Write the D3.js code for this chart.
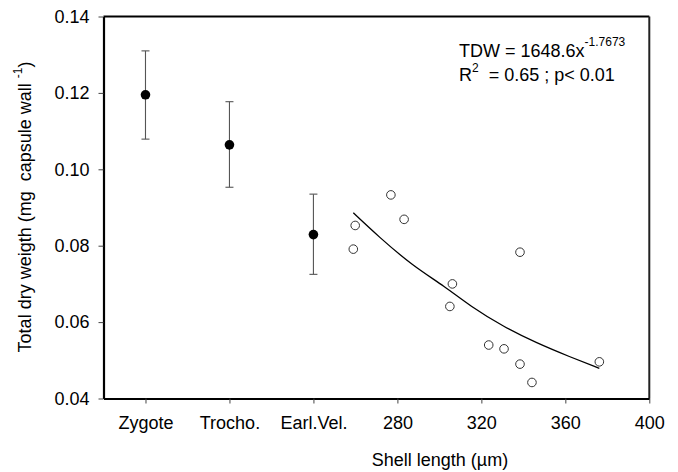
<!DOCTYPE html>
<html>
<head>
<meta charset="utf-8">
<script src="https://cdn.jsdelivr.net/npm/d3@7"></script>
<style>
  html, body { margin: 0; padding: 0; background: #fff; }
  svg { display: block; font-family: "Liberation Sans", Arial, sans-serif; }
</style>
</head>
<body>
<svg id="chart" width="678" height="472"></svg>
<script>
// ---- data ----
const tickValues = [160, 200, 240, 280, 320, 360, 400];
const tickLabels = ["Zygote", "Trocho.", "Earl.Vel.", "280", "320", "360", "400"];
const yTicks = [0.04, 0.06, 0.08, 0.10, 0.12, 0.14];

const stageX = [160, 200, 240];
const stageMean = [0.1195, 0.1064, 0.0829];
const stageUpper = [0.1310, 0.1177, 0.0935];
const stageLower = [0.1079, 0.0953, 0.0725];

const shellLength = [259.0, 259.9, 276.9, 283.2, 306.2, 305.0, 338.4, 323.5, 330.8, 338.4, 344.1, 376.2];
const shellTDW    = [0.0791, 0.0853, 0.0933, 0.0869, 0.0700, 0.0641, 0.0783, 0.0540, 0.0530, 0.0490, 0.0442, 0.0496];

const fitX = [259.0, 271.0, 286.9, 302.7, 314.6, 330.5, 346.4, 362.2, 376.2];
const fitY = [0.0886, 0.0824, 0.0749, 0.0693, 0.0642, 0.0588, 0.0545, 0.0509, 0.0479];

// ---- layout ----
const svg = d3.select("#chart");
svg.append("rect").attr("width", 678).attr("height", 472).attr("fill", "#fff");
const L = 103.5, R = 649.3, T = 16.5, B = 398.5;
const x = d3.scaleLinear().domain([140, 400]).range([L, R]);
const y = d3.scaleLinear().domain([0.04, 0.14]).range([B, T]);

// frame (top, right)
svg.append("line").attr("x1", L).attr("x2", R).attr("y1", T).attr("y2", T)
  .attr("stroke", "#000").attr("stroke-width", 1.8);
svg.append("line").attr("x1", R).attr("x2", R).attr("y1", T).attr("y2", B)
  .attr("stroke", "#222").attr("stroke-width", 2);

// axes
const xAxis = d3.axisBottom(x).tickValues(tickValues)
  .tickFormat((d, i) => tickLabels[i]).tickSize(5).tickSizeOuter(0).tickPadding(13);
const gx = svg.append("g").attr("transform", `translate(0,${B})`).call(xAxis);
const yAxis = d3.axisLeft(y).tickValues(yTicks)
  .tickFormat(d3.format(".2f")).tickSize(5).tickSizeOuter(0).tickPadding(9);
const gy = svg.append("g").attr("transform", `translate(${L},0)`).call(yAxis);
[gx, gy].forEach(g => {
  g.select(".domain").attr("stroke", "#000").attr("stroke-width", 2.2);
  g.selectAll(".tick line").attr("stroke", "#444").attr("stroke-width", 1);
  g.selectAll(".tick text").attr("font-size", 18).attr("fill", "#000")
    .attr("font-family", "'Liberation Sans', Arial, sans-serif");
});

// error bars
const eb = svg.append("g").attr("stroke", "#555").attr("stroke-width", 1.1);
stageX.forEach((sx, i) => {
  const cx = x(sx);
  eb.append("line").attr("x1", cx).attr("x2", cx).attr("y1", y(stageUpper[i])).attr("y2", y(stageLower[i]));
  eb.append("line").attr("x1", cx - 4).attr("x2", cx + 4).attr("y1", y(stageUpper[i])).attr("y2", y(stageUpper[i]));
  eb.append("line").attr("x1", cx - 4).attr("x2", cx + 4).attr("y1", y(stageLower[i])).attr("y2", y(stageLower[i]));
});
svg.append("g").selectAll("circle").data(stageX).join("circle")
  .attr("cx", d => x(d)).attr("cy", (d, i) => y(stageMean[i])).attr("r", 4.8).attr("fill", "#000");

// fitted curve
const line = d3.line().x(d => x(d[0])).y(d => y(d[1])).curve(d3.curveBasis);
svg.append("path").datum(fitX.map((v, i) => [v, fitY[i]]))
  .attr("d", line).attr("fill", "none").attr("stroke", "#000").attr("stroke-width", 1.3);

// open circles
svg.append("g").selectAll("circle").data(shellLength).join("circle")
  .attr("cx", d => x(d)).attr("cy", (d, i) => y(shellTDW[i])).attr("r", 4.3)
  .attr("fill", "#fff").attr("stroke", "#333").attr("stroke-width", 1);

// annotation
const ann = svg.append("g").attr("font-size", 18).attr("fill", "#000");
const t1 = ann.append("text").attr("x", 459).attr("y", 57);
t1.append("tspan").text("TDW = 1648.6x");
t1.append("tspan").attr("font-size", 12).attr("dy", -11).text("-1.7673");
const t2 = ann.append("text").attr("x", 459).attr("y", 81);
t2.append("tspan").text("R");
t2.append("tspan").attr("font-size", 12).attr("dy", -9).text("2");
t2.append("tspan").attr("dy", 9).attr("xml:space", "preserve").text("\u00a0 = 0.65 ; p< 0.01");

// axis titles
svg.append("text").attr("x", 440).attr("y", 466).attr("text-anchor", "middle")
  .attr("font-size", 18).text("Shell length (\u00b5m)");
const yt = svg.append("text").attr("transform", "translate(31,207) rotate(-90)")
  .attr("text-anchor", "middle").attr("font-size", 18);
yt.append("tspan").text("Total dry weigth (mg \u00a0capsule wall ");
yt.append("tspan").attr("font-size", 12).attr("dy", -9).text("-1");
yt.append("tspan").attr("dy", 9).text(")");
</script>
</body>
</html>
